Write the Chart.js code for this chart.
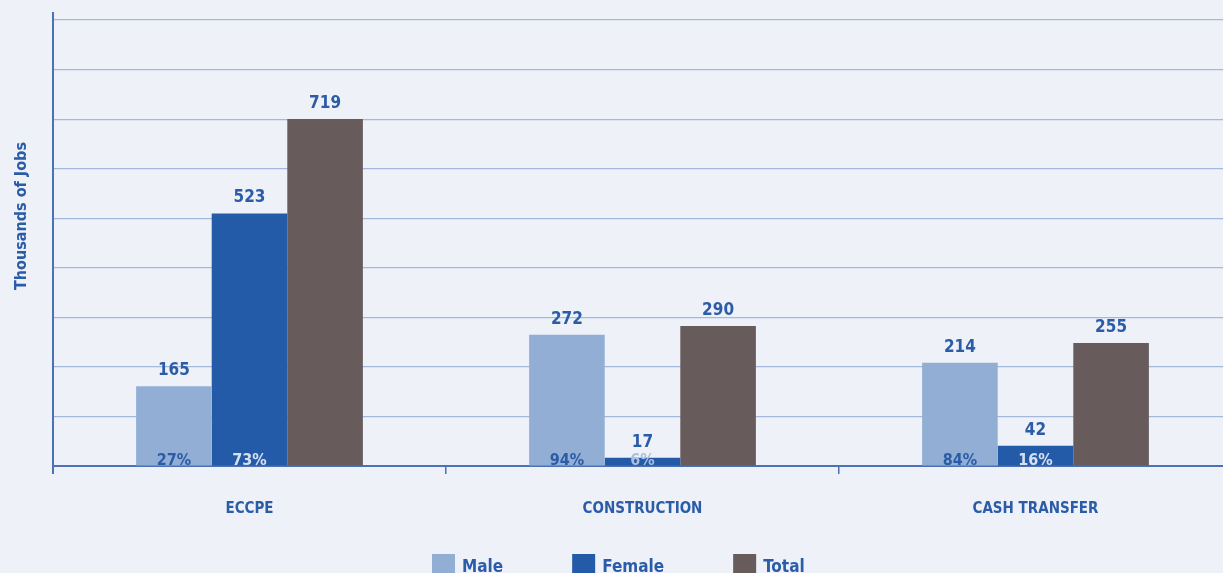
<!DOCTYPE html>
<html>
<head>
<meta charset="utf-8">
<script src="https://cdn.jsdelivr.net/npm/chart.js@4"></script>
<style>
    html, body { margin: 0; padding: 0; background: #eef1f8; overflow: hidden; }
    #wrap { position: relative; width: 1232px; height: 573px; }
</style>
</head>
<body>
<div id="wrap"><canvas id="jobsChart"></canvas></div>
<script>
/* eslint-disable no-undef */
const categories = ['ECCPE', 'CONSTRUCTION', 'CASH TRANSFER'];
const maleJobs = [165, 272, 214];
const femaleJobs = [523, 17, 42];
const totalJobs = [719, 290, 255];
const malePct = ['27%', '94%', '84%'];
const femalePct = ['73%', '6%', '16%'];
const seriesNames = ['Male', 'Female', 'Total'];
const seriesColors = ['#92aed4', '#245ba8', '#685b5b'];
const yMax = 924;
const yTickCount = 9;

const fontFamily = "'DejaVu Sans Condensed', 'DejaVu Sans', sans-serif";
const textBlue = '#2b5ca8';

var extra = {
    id: 'extraText',
    afterDatasetsDraw(chart) {
        const { ctx, chartArea: { left, top, bottom } } = chart;
        ctx.save();

        // y axis line, a bit longer than the plot
        ctx.strokeStyle = '#4a72b5';
        ctx.lineWidth = 2;
        ctx.beginPath();
        ctx.moveTo(left, top - 8);
        ctx.lineTo(left, bottom + 8);
        ctx.stroke();

        // values above bars
        ctx.textAlign = 'center';
        ctx.textBaseline = 'bottom';
        ctx.font = 'bold 17px ' + fontFamily;
        ctx.fillStyle = textBlue;
        chart.data.datasets.forEach((ds, d) => {
            chart.getDatasetMeta(d).data.forEach((bar, i) => {
                ctx.fillText(ds.data[i], bar.x, bar.y - 7);
            });
        });

        // shares at the foot of male / female bars
        ctx.font = 'bold 16px ' + fontFamily;
        ctx.textBaseline = 'alphabetic';
        chart.getDatasetMeta(0).data.forEach((bar, i) => {
            ctx.fillStyle = textBlue;
            ctx.fillText(malePct[i], bar.x, bottom - 1);
        });
        chart.getDatasetMeta(1).data.forEach((bar, i) => {
            ctx.fillStyle = i === 1 ? '#a9bddd' : '#d7e0ef';
            ctx.fillText(femalePct[i], bar.x, bottom - 1);
        });

        // axis title
        ctx.translate(22, 216);
        ctx.rotate(-Math.PI / 2);
        ctx.textBaseline = 'middle';
        ctx.font = 'bold 16px ' + fontFamily;
        ctx.fillStyle = textBlue;
        ctx.fillText('Thousands of Jobs', 0, 0);
        ctx.restore();

        // legend
        ctx.save();
        ctx.font = 'bold 17px ' + fontFamily;
        ctx.textBaseline = 'alphabetic';
        ctx.textAlign = 'left';
        let x = 432;
        seriesNames.forEach((name, i) => {
            ctx.fillStyle = seriesColors[i];
            ctx.fillRect(x, 554, 23, 22);
            ctx.fillStyle = textBlue;
            ctx.fillText(name, x + 30, 572);
            x += 30 + ctx.measureText(name).width + 69;
        });
        ctx.restore();
    }
};

var options = {
    responsive: false,
    animation: { duration: 0 },
    layout: { padding: { top: 20, left: 0, right: 0, bottom: 0 } },
    plugins: {
        legend: { display: false },
        tooltip: { enabled: false }
    },
    scales: {
        x: {
            grid: {
                display: true,
                offset: true,
                drawOnChartArea: false,
                drawTicks: true,
                tickLength: 8,
                color: '#4a72b5',
                lineWidth: 1.5
            },
            border: { display: true, color: '#4a72b5', width: 2 },
            ticks: {
                color: textBlue,
                padding: 26,
                font: { family: fontFamily, size: 15, weight: 'bold' }
            },
            afterFit(scale) { scale.height = 573 - 466; }
        },
        y: {
            min: 0,
            max: yMax,
            grid: { color: '#a3b8da', lineWidth: 1.2, drawTicks: false },
            border: { display: false },
            ticks: { display: false },
            afterBuildTicks(scale) {
                scale.ticks = Array.from({ length: yTickCount + 1 }, (v, i) => ({ value: i * yMax / yTickCount }));
            },
            afterFit(scale) { scale.width = 53; }
        }
    }
};

var config = {
    type: 'bar',
    data: {
        labels: categories,
        datasets: [
            { label: seriesNames[0], data: maleJobs, backgroundColor: seriesColors[0] },
            { label: seriesNames[1], data: femaleJobs, backgroundColor: seriesColors[1] },
            { label: seriesNames[2], data: totalJobs, backgroundColor: seriesColors[2] }
        ].map(ds => Object.assign(ds, { borderWidth: 0, barPercentage: 1, categoryPercentage: 0.577 }))
    },
    options: options,
    plugins: [extra]
};

const canvas = document.getElementById('jobsChart');
canvas.width = 1232;
canvas.height = 573;
new Chart(canvas, config);
</script>
</body>
</html>
